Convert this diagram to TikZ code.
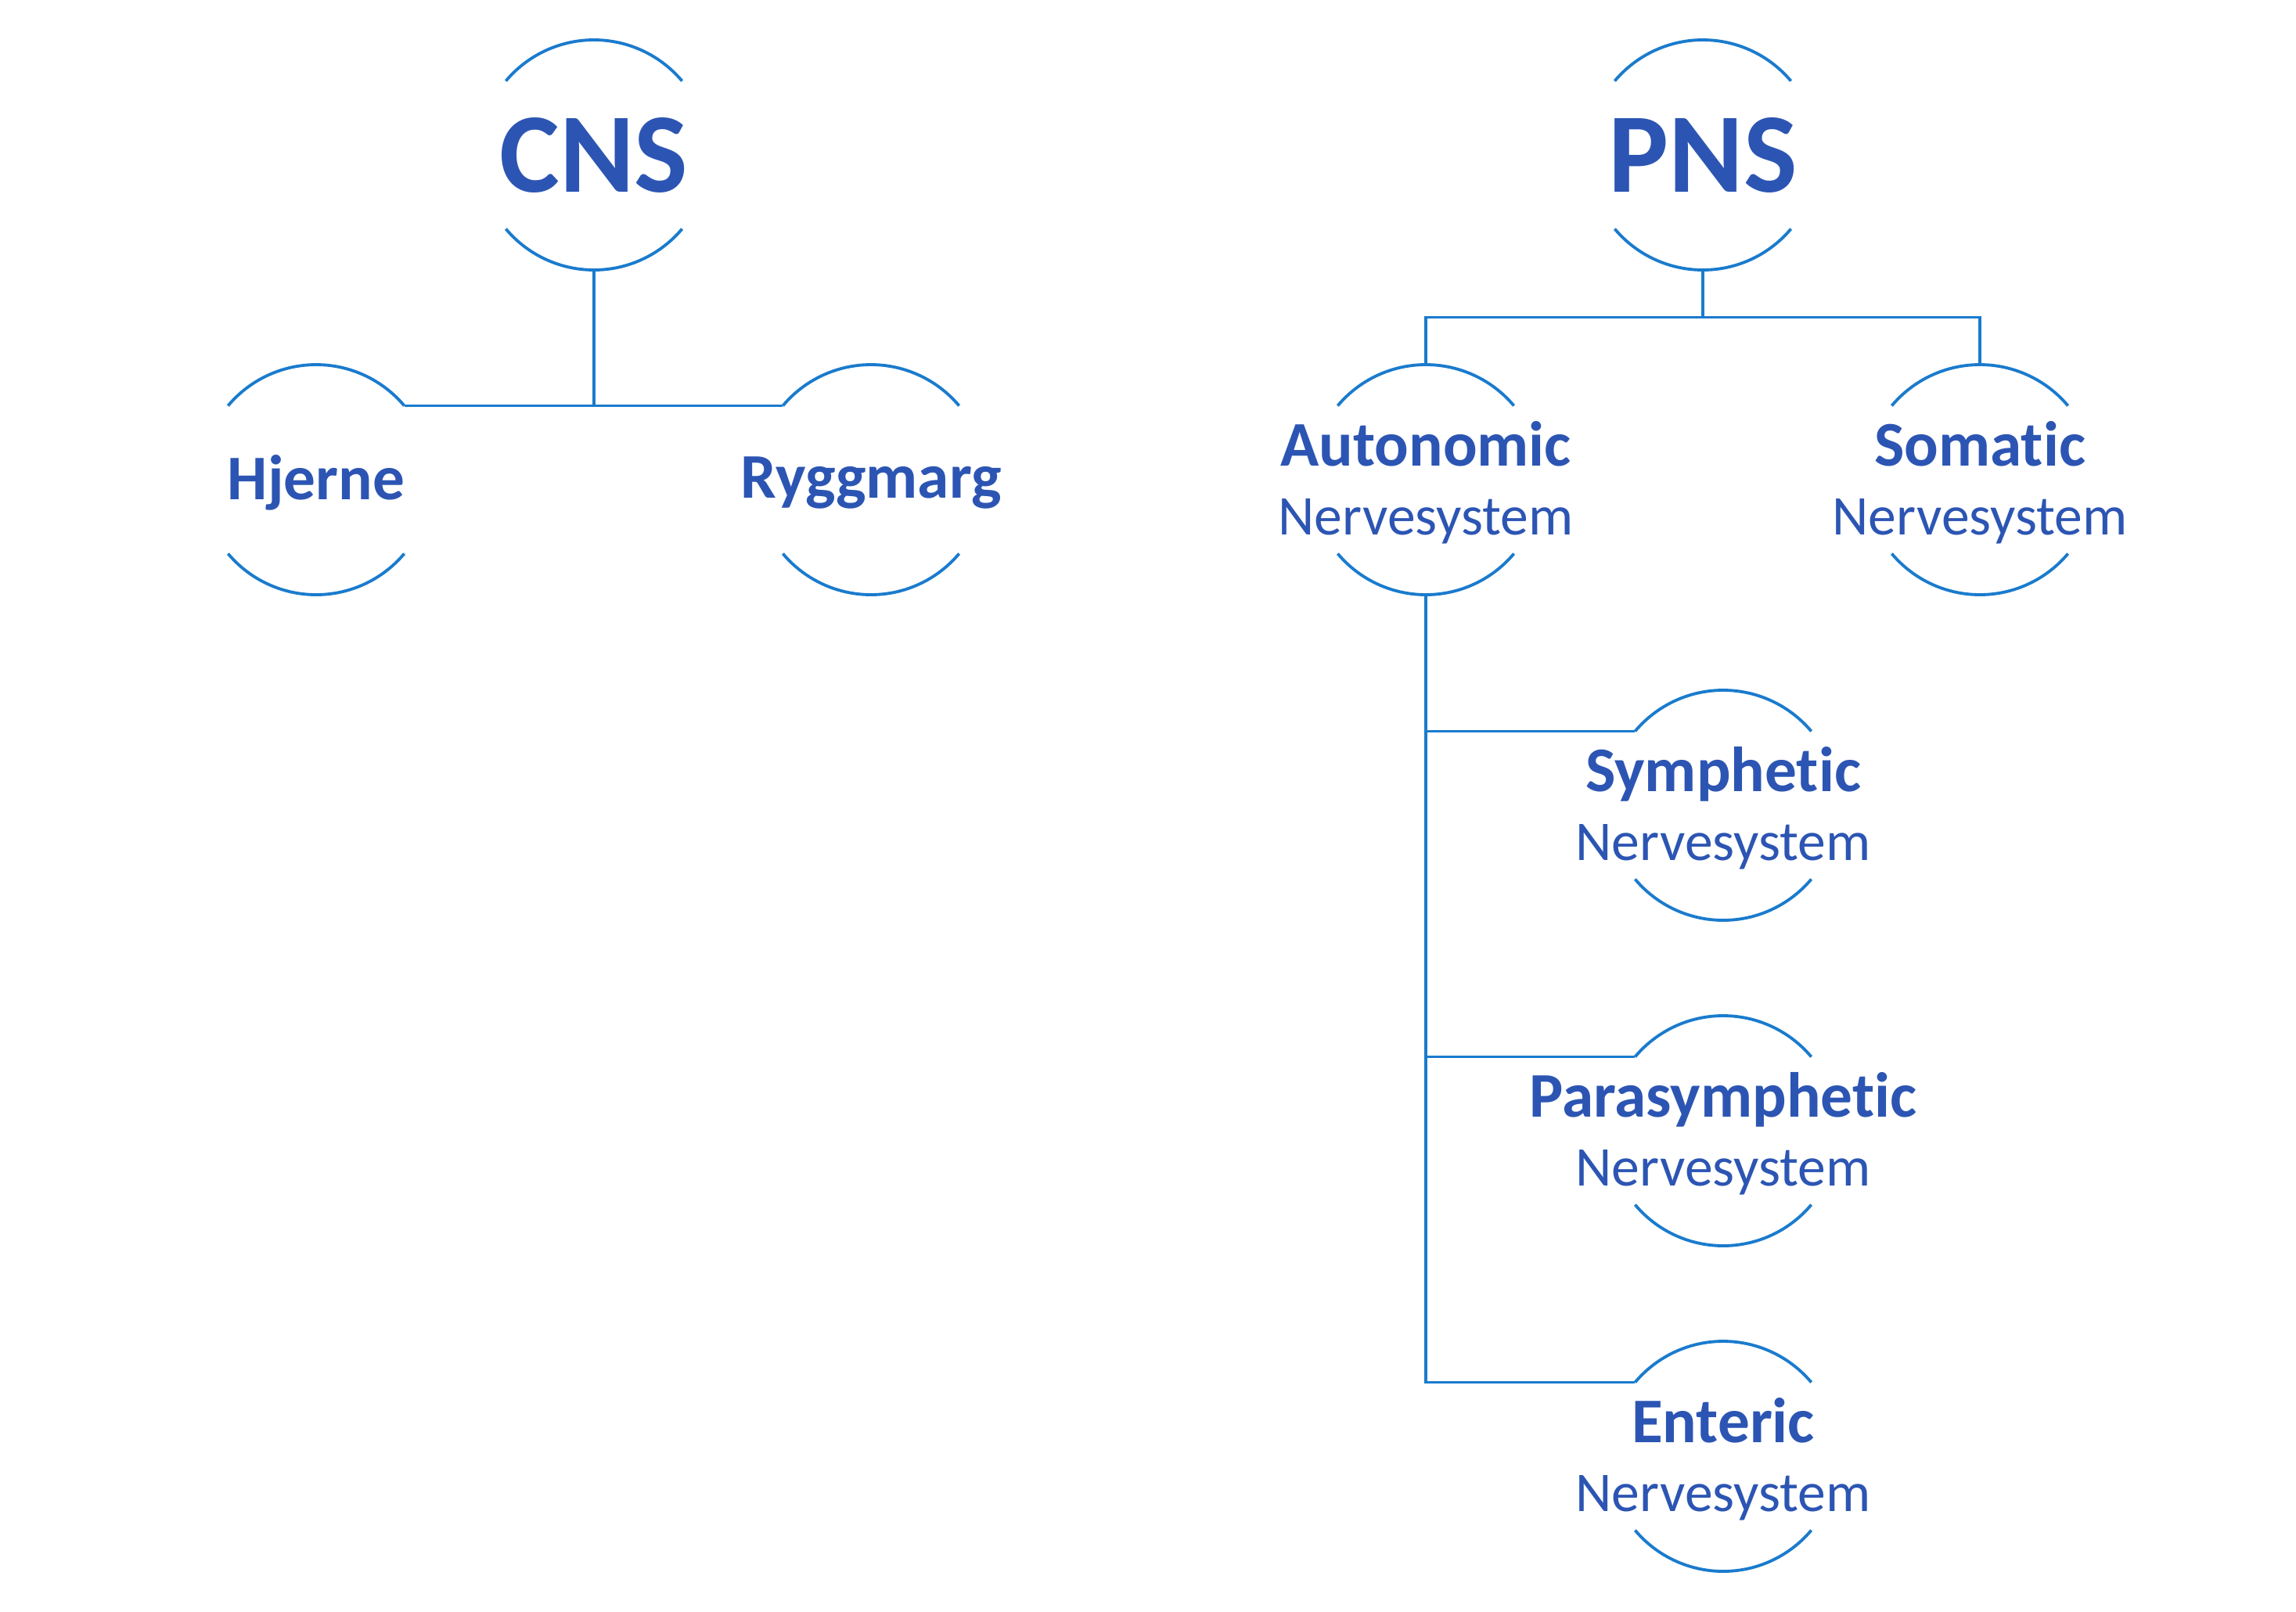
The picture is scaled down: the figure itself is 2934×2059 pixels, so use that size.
\documentclass[tikz,border=0pt]{standalone}
\usepackage{fontspec}
\setmainfont{Carlito}[Ligatures=NoCommon]
\usetikzlibrary{calc}
\definecolor{txt}{HTML}{2C55B3}
\definecolor{ln}{HTML}{1A7BCD}
\begin{document}
\begin{tikzpicture}[x=0.3pt,y=-0.3pt,
  ring/.style={circle,minimum size=88.2pt,inner sep=0pt,outer sep=0pt,draw=none},
  arcline/.style={draw=ln,line width=1.15pt},
  conn/.style={draw=ln,line width=1.15pt},
  big/.style={text=txt,font=\bfseries\fontsize{43.5}{50}\selectfont},
  one/.style={text=txt,yshift=-1.2pt,font=\bfseries\fontsize{24.4}{29}\selectfont},
  two/.style={text=txt,yshift=-1.2pt,align=center,font=\fontsize{21.5}{26.4}\selectfont}]
\useasboundingbox (0,0) rectangle (2934,2059);
% ring positions
\node[ring] (cns) at (759,198) {};
\node[ring] (pns) at (2176,198) {};
\node[ring] (hj) at (404,613) {};
\node[ring] (ry) at (1113,613) {};
\node[ring] (au) at (1822,613) {};
\node[ring] (so) at (2530,613) {};
\node[ring] (sy) at (2202,1029) {};
\node[ring] (pa) at (2202,1445) {};
\node[ring] (en) at (2202,1861) {};
% arcs
\foreach \n in {cns,pns,hj,ry,au,so,sy,pa,en}{
  \draw[arcline] (\n.40) arc[start angle=40,end angle=140,radius=44.1pt];
  \draw[arcline] (\n.220) arc[start angle=220,end angle=320,radius=44.1pt];
}
% texts
\node[big] (cnsT) at (cns.center) {CNS};
\node[big] (pnsT) at (pns.center) {PNS};
\node[one] (hjT) at (hj.center) {Hjerne};
\node[one] (ryT) at (ry.center) {Ryggmarg};
\node[two] (auT) at (au.center) {{\bfseries\fontsize{24.4}{26.4}\selectfont Autonomic}\\Nervesystem};
\node[two] (soT) at (so.center) {{\bfseries\fontsize{24.4}{26.4}\selectfont Somatic}\\Nervesystem};
\node[two] (syT) at (sy.center) {{\bfseries\fontsize{24.4}{26.4}\selectfont Symphetic}\\Nervesystem};
\node[two] (paT) at (pa.center) {{\bfseries\fontsize{24.4}{26.4}\selectfont Parasymphetic}\\Nervesystem};
\node[two] (enT) at (en.center) {{\bfseries\fontsize{24.4}{26.4}\selectfont Enteric}\\Nervesystem};
% connectors
\draw[conn] (hj.40) -- (ry.140);
\draw[conn] (cns.south) -- (cns.south |- hj.40);
\coordinate (pb) at ($(pns.south)!0.5!(au.north)$);
\draw[conn] (au.north) |- (pb) -| (so.north);
\draw[conn] (pns.south) -- (pns.south |- pb);
\draw[conn] (au.south) |- (en.140);
\draw[conn] (au.south |- sy.140) -- (sy.140);
\draw[conn] (au.south |- pa.140) -- (pa.140);
\end{tikzpicture}
\end{document}
